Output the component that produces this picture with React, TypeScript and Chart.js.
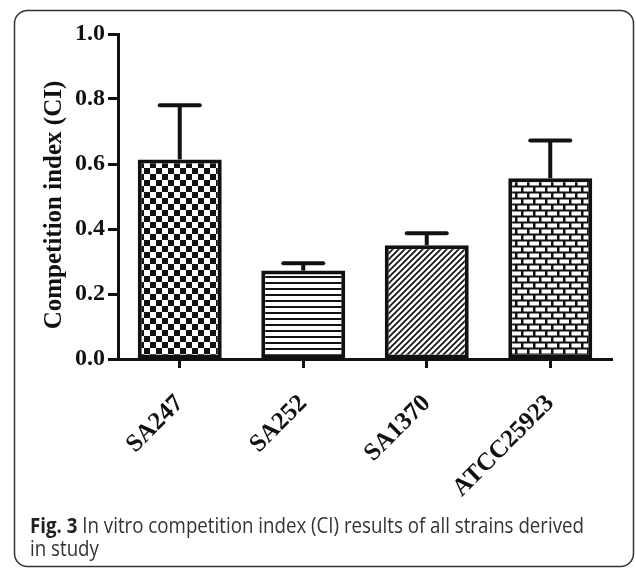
import React, { useEffect, useRef } from "react";
import { Chart, registerables } from "chart.js";

Chart.register(...registerables);

// ---- data ----
const categories = ["SA247", "SA252", "SA1370", "ATCC25923"];
const meanCI = [0.614, 0.272, 0.35, 0.556];
const semCI = [0.167, 0.023, 0.037, 0.116];
const patternKinds = ["checker", "hlines", "diagonal", "brick"];
const yTickValues = [0, 0.2, 0.4, 0.6, 0.8, 1.0];
const yTitle = "Competition index (CI)";
const captionBold = "Fig. 3";
const captionRest = " In vitro competition index (CI) results of all strains derived";
const captionLine2 = "in study";

const INK = "#111111";

function makePattern(kind: string): CanvasPattern | string {
  const c = document.createElement("canvas");
  const g = c.getContext("2d");
  if (!g) return "#fff";
  if (kind === "checker") {
    c.width = 12; c.height = 12;
    g.fillStyle = "#fff"; g.fillRect(0, 0, 12, 12);
    g.fillStyle = INK;
    g.fillRect(0, 0, 6, 6);
    g.fillRect(6, 6, 6, 6);
  } else if (kind === "hlines") {
    c.width = 8; c.height = 6;
    g.fillStyle = "#fff"; g.fillRect(0, 0, 8, 6);
    g.fillStyle = INK;
    g.fillRect(0, 0, 8, 2);
  } else if (kind === "diagonal") {
    c.width = 6; c.height = 6;
    g.fillStyle = "#fff"; g.fillRect(0, 0, 6, 6);
    g.strokeStyle = INK; g.lineWidth = 1.7;
    g.beginPath();
    g.moveTo(-1, 7); g.lineTo(7, -1);
    g.moveTo(-4, 4); g.lineTo(4, -4);
    g.moveTo(2, 10); g.lineTo(10, 2);
    g.stroke();
  } else {
    c.width = 24; c.height = 12;
    g.fillStyle = INK; g.fillRect(0, 0, 24, 12);
    g.fillStyle = "#fff";
    g.fillRect(1.5, 1.5, 9.5, 4);
    g.fillRect(13.5, 1.5, 9.5, 4);
    g.fillRect(7.5, 7.5, 9.5, 4);
    g.fillRect(19.5, 7.5, 9.5, 4);
    g.fillRect(-4.5, 7.5, 9.5, 4);
  }
  const p = g.createPattern(c, "repeat");
  return p || "#fff";
}

const framePlugin = {
  id: "frame",
  beforeDraw(chart: any) {
    const ctx = chart.ctx;
    ctx.save();
    ctx.fillStyle = "#fff";
    ctx.fillRect(0, 0, chart.width, chart.height);
    // rounded frame
    const x = 14.5, y = 10.5, w = 619, h = 556, r = 13;
    ctx.strokeStyle = "#333";
    ctx.lineWidth = 1.5;
    ctx.beginPath();
    ctx.moveTo(x + r, y);
    ctx.lineTo(x + w - r, y);
    ctx.arcTo(x + w, y, x + w, y + r, r);
    ctx.lineTo(x + w, y + h - r);
    ctx.arcTo(x + w, y + h, x + w - r, y + h, r);
    ctx.lineTo(x + r, y + h);
    ctx.arcTo(x, y + h, x, y + h - r, r);
    ctx.lineTo(x, y + r);
    ctx.arcTo(x, y, x + r, y, r);
    ctx.closePath();
    ctx.stroke();
    ctx.restore();
  },
  afterDraw(chart: any) {
    const ctx = chart.ctx;
    ctx.save();
    // y axis title
    ctx.translate(61, 205);
    ctx.rotate(-Math.PI / 2);
    ctx.font = "bold 25px 'Liberation Serif', 'Times New Roman', serif";
    ctx.fillStyle = INK;
    ctx.textAlign = "center";
    ctx.textBaseline = "alphabetic";
    ctx.fillText(yTitle, 0, 0);
    ctx.restore();

    // caption
    ctx.save();
    const boldFont = "bold 21px 'Open Sans', 'Noto Sans', sans-serif";
    const regFont = "21px 'Open Sans', 'Noto Sans', sans-serif";
    ctx.font = boldFont;
    const wb = ctx.measureText(captionBold).width;
    ctx.font = regFont;
    const wr = ctx.measureText(captionRest).width;
    const target = 554;
    const s = Math.min(1, target / (wb + wr));
    ctx.textBaseline = "alphabetic";
    ctx.textAlign = "left";
    ctx.translate(30, 533);
    ctx.scale(s, 1);
    ctx.font = boldFont;
    ctx.fillStyle = "#231f20";
    ctx.fillText(captionBold, 0, 0);
    ctx.font = regFont;
    ctx.fillStyle = "#333333";
    ctx.fillText(captionRest, wb, 0);
    ctx.fillText(captionLine2, 0, 23);
    ctx.restore();
  },
};

const errorBarPlugin = {
  id: "errorBars",
  afterDatasetsDraw(chart: any) {
    const ctx = chart.ctx;
    const yScale = chart.scales.y;
    const meta = chart.getDatasetMeta(0);
    ctx.save();
    ctx.strokeStyle = INK;
    ctx.lineWidth = 4;
    meta.data.forEach((el: any, i: number) => {
      const top = yScale.getPixelForValue(meanCI[i] + semCI[i]);
      const x = el.x;
      ctx.lineCap = "butt";
      ctx.beginPath();
      ctx.moveTo(x, el.y);
      ctx.lineTo(x, top);
      ctx.stroke();
      ctx.lineCap = "round";
      ctx.beginPath();
      ctx.moveTo(x - 20, top);
      ctx.lineTo(x + 20, top);
      ctx.stroke();
    });
    ctx.restore();
  },
};

export default function App() {
  const ref = useRef<HTMLCanvasElement | null>(null);

  useEffect(() => {
    document.body.style.margin = "0";
    const canvas = ref.current;
    if (!canvas) return;
    const patterns = patternKinds.map((k) => makePattern(k));
    const chart = new Chart(canvas, {
      type: "bar",
      data: {
        labels: categories,
        datasets: [
          {
            data: meanCI,
            backgroundColor: patterns as any,
            borderColor: INK,
            borderWidth: 4,
            borderSkipped: false,
            categoryPercentage: 1,
            barPercentage: 0.68,
          },
        ],
      },
      options: {
        responsive: false,
        animation: false,
        devicePixelRatio: 1,
        layout: { padding: { left: 0, top: 34, right: 24, bottom: 0 } },
        plugins: {
          legend: { display: false },
          tooltip: { enabled: false },
          title: { display: false },
        },
        scales: {
          x: {
            type: "category",
            offset: true,
            grid: {
              display: true,
              drawOnChartArea: false,
              drawTicks: true,
              tickLength: 9,
              tickWidth: 3,
              tickColor: INK,
              offset: false,
            },
            border: { display: true, color: INK, width: 3 },
            ticks: {
              color: INK,
              font: { family: "'Liberation Serif', 'Times New Roman', serif", size: 25, weight: "bold" },
              minRotation: 45,
              maxRotation: 45,
              padding: 21,
              autoSkip: false,
            },
            afterFit(scale: any) {
              scale.height = 210;
            },
          },
          y: {
            min: 0,
            max: 1,
            grid: {
              display: true,
              drawOnChartArea: false,
              drawTicks: true,
              tickLength: 10,
              tickWidth: 3,
              tickColor: INK,
            },
            border: { display: true, color: INK, width: 3 },
            ticks: {
              color: INK,
              font: { family: "'Liberation Serif', 'Times New Roman', serif", size: 24, weight: "bold" },
              padding: 3,
              stepSize: 0.2,
              callback: (v: any) => Number(v).toFixed(1),
            },
            afterBuildTicks(scale: any) {
              scale.ticks = yTickValues.map((v) => ({ value: v }));
            },
            afterFit(scale: any) {
              scale.width = 118;
            },
          },
        },
      },
      plugins: [framePlugin, errorBarPlugin],
    });
    return () => chart.destroy();
  }, []);

  return (
    <div style={{ width: 636, height: 569, position: "relative" }}>
      <canvas ref={ref} width={636} height={569} style={{ display: "block", width: 636, height: 569 }} />
    </div>
  );
}
